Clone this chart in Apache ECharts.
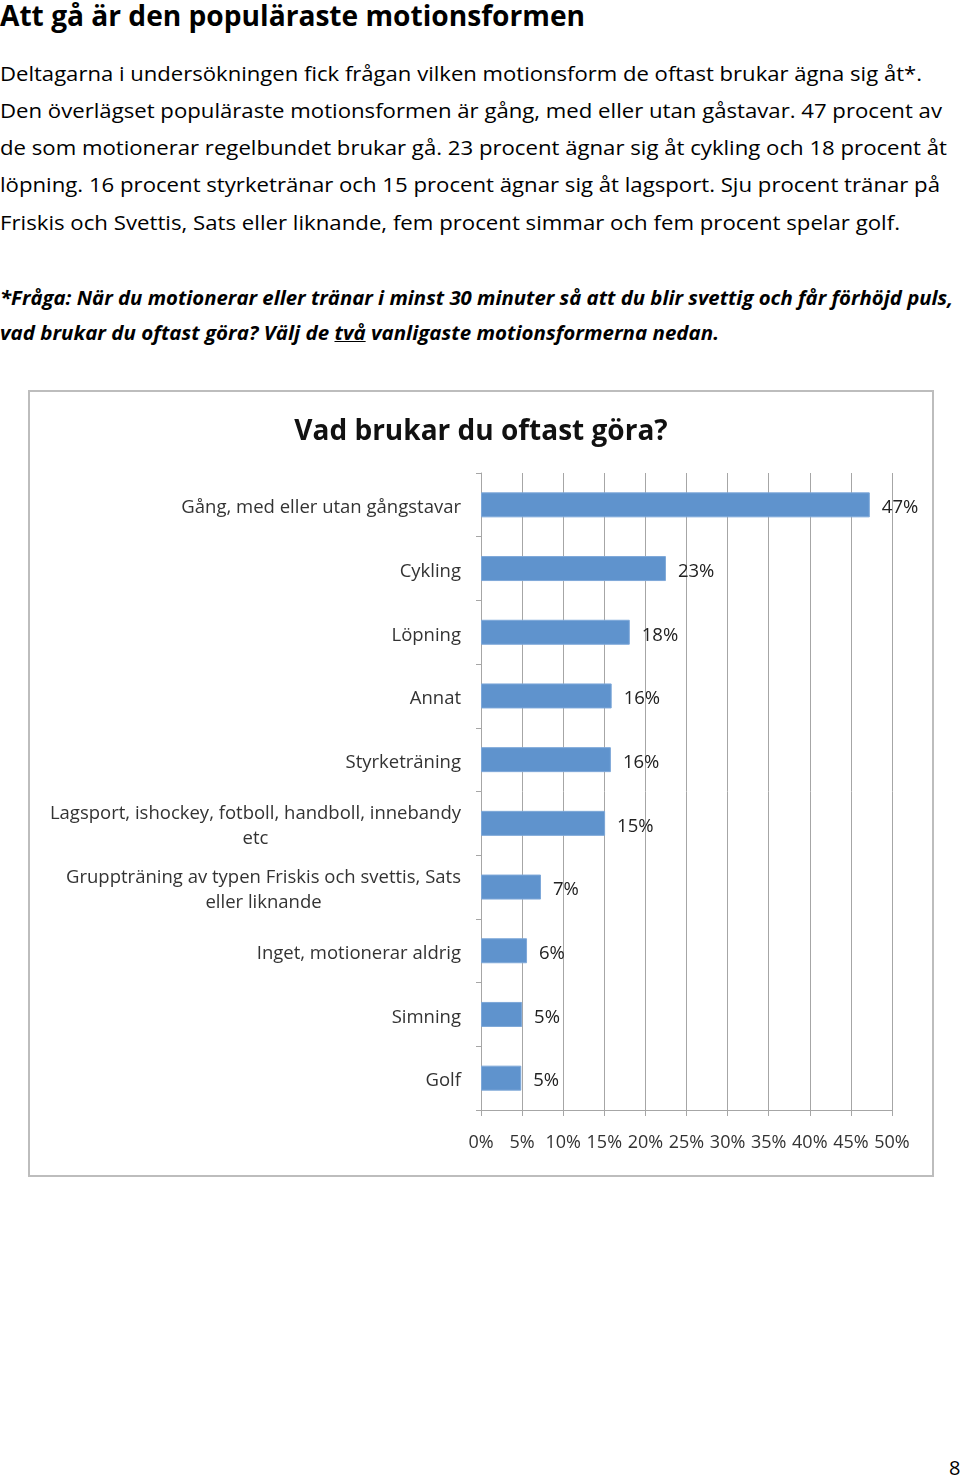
<!DOCTYPE html>
<html>
<head>
<meta charset="utf-8">
<script src="https://cdn.jsdelivr.net/npm/echarts@6/dist/echarts.min.js"></script>
<style>
  html, body { margin: 0; padding: 0; background: #fff; }
  body { width: 960px; height: 1477px; position: relative; overflow: hidden; font-family: "Open Sans", sans-serif; color: #000; }
  .ln { position: absolute; left: 0; white-space: nowrap; transform-origin: 0 50%; }
  .h1 { font-weight: 700; font-size: 28px; line-height: 34px; }
  .p { font-size: 20px; line-height: 28px; }
  .q { font-size: 19px; line-height: 26px; font-weight: 700; font-style: italic; }
  #box { position: absolute; left: 28px; top: 390px; width: 906px; height: 787px; box-sizing: border-box; border: 2px solid #bdbdbd; }
  #chart { width: 902px; height: 783px; }
  #pg { position: absolute; left: 949px; top: 1455px; font-size: 20px; line-height: 26px; }
</style>
</head>
<body>
<div class="ln h1 fit" data-w="585" style="top:-2px">Att gå är den populäraste motionsformen</div>
<div class="ln p fit" data-w="922" style="top:60px">Deltagarna i undersökningen fick frågan vilken motionsform de oftast brukar ägna sig åt*.</div>
<div class="ln p fit" data-w="942" style="top:97px">Den överlägset populäraste motionsformen är gång, med eller utan gåstavar. 47 procent av</div>
<div class="ln p fit" data-w="947" style="top:134px">de som motionerar regelbundet brukar gå. 23 procent ägnar sig åt cykling och 18 procent åt</div>
<div class="ln p fit" data-w="940" style="top:171px">löpning. 16 procent styrketränar och 15 procent ägnar sig åt lagsport. Sju procent tränar på</div>
<div class="ln p fit" data-w="900" style="top:209px">Friskis och Svettis, Sats eller liknande, fem procent simmar och fem procent spelar golf.</div>
<div class="ln q fit" data-w="953" style="top:285px">*Fråga: När du motionerar eller tränar i minst 30 minuter så att du blir svettig och får förhöjd puls,</div>
<div class="ln q fit" data-w="719" style="top:320px">vad brukar du oftast göra? Välj de <u>två</u> vanligaste motionsformerna nedan.</div>
<div id="box"><div id="chart"></div></div>
<div id="pg">8</div>
<script>
// Data
var categories = [
  "Gång, med eller utan gångstavar",
  "Cykling",
  "Löpning",
  "Annat",
  "Styrketräning",
  "Lagsport, ishockey, fotboll, handboll, innebandy\netc",
  "Gruppträning av typen Friskis och svettis, Sats\neller liknande",
  "Inget, motionerar aldrig",
  "Simning",
  "Golf"
];
var values = [47.3, 22.5, 18.1, 15.9, 15.8, 15.1, 7.3, 5.6, 5.0, 4.9];
var valueLabels = ["47%", "23%", "18%", "16%", "16%", "15%", "7%", "6%", "5%", "5%"];
var xTicks = ["0%", "5%", "10%", "15%", "20%", "25%", "30%", "35%", "40%", "45%", "50%"];
var chartTitle = "Vad brukar du oftast göra?";

function fitLines() {
  document.querySelectorAll('.fit').forEach(function (el) {
    el.style.transform = 'none';
    var w = el.getBoundingClientRect().width;
    var t = parseFloat(el.getAttribute('data-w'));
    if (w > 0) el.style.transform = 'scaleX(' + (t / w) + ')';
  });
}

var chart = echarts.init(document.getElementById('chart'), null, { renderer: 'canvas' });
var axisGray = '#a6a6a6';
chart.setOption({
  animation: false,
  textStyle: { fontFamily: 'Open Sans' },
  title: {
    text: chartTitle,
    left: 'center',
    top: 21,
    textStyle: { fontSize: 28, fontWeight: 'bold', color: '#111', fontFamily: 'Open Sans' }
  },
  grid: { left: 451, right: 40, top: 81, bottom: 65, containLabel: false },
  xAxis: {
    type: 'value',
    min: 0, max: 50, interval: 5,
    axisLine: { show: true, lineStyle: { color: axisGray, width: 1 } },
    axisTick: { show: true, length: 6, lineStyle: { color: axisGray } },
    splitLine: { show: true, lineStyle: { color: axisGray, width: 1 } },
    axisLabel: {
      margin: 24,
      fontSize: 18,
      color: '#333',
      formatter: function (v) { return xTicks[Math.round(v / 5)]; }
    }
  },
  yAxis: {
    type: 'category',
    inverse: true,
    data: categories,
    axisLine: { show: true, lineStyle: { color: axisGray, width: 1 } },
    axisTick: { show: true, length: 5, alignWithLabel: false, lineStyle: { color: axisGray } },
    axisLabel: {
      margin: 20,
      color: '#333',
      fontSize: 18.5,
      formatter: function (v) {
        return v.split('\n').map(function (s) { return '{c|' + s + '}'; }).join('\n');
      },
      rich: { c: { align: 'center', fontSize: 18.5, lineHeight: 25, padding: [6, 0, 0, 0], color: '#333', fontFamily: 'Open Sans' } }
    }
  },
  series: [{
    type: 'bar',
    data: values,
    barWidth: 25,
    itemStyle: { color: '#5f93cd', borderColor: '#7ea8d9', borderWidth: 1 },
    label: {
      show: true,
      position: 'right',
      distance: 12,
      offset: [0, 3],
      fontSize: 18.5,
      color: '#222',
      formatter: function (p) { return valueLabels[p.dataIndex]; }
    }
  }]
});

if (document.fonts && document.fonts.ready) {
  document.fonts.ready.then(fitLines);
}
fitLines();
</script>
</body>
</html>
